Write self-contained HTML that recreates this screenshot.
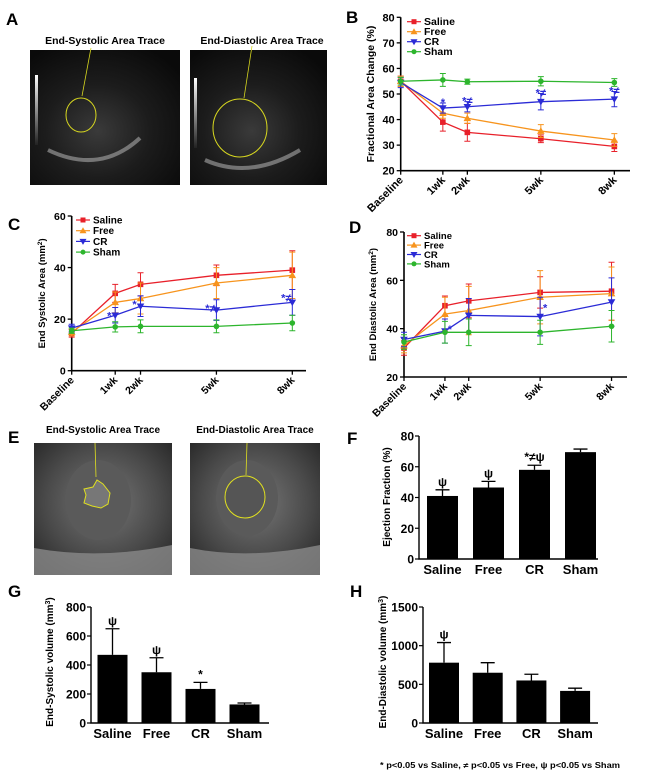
<!DOCTYPE html>
<html><head><meta charset="utf-8"><style>
html,body{margin:0;padding:0;background:#fff}
svg{display:block;font-family:"Liberation Sans",Arial,sans-serif}
.b{font-weight:bold}
.n{font-family:"Liberation Sans Narrow","Liberation Sans",sans-serif;font-weight:bold}
</style></head><body>
<svg id="fig" width="645" height="778" viewBox="0 0 645 778" xmlns="http://www.w3.org/2000/svg">
<defs>
<radialGradient id="us" cx="0.45" cy="0.6" r="0.7"><stop offset="0" stop-color="#3a3a3a"/><stop offset="0.5" stop-color="#1c1c1c"/><stop offset="1" stop-color="#0a0a0a"/></radialGradient>
<radialGradient id="mri" cx="0.5" cy="0.45" r="0.75"><stop offset="0" stop-color="#777"/><stop offset="0.55" stop-color="#4a4a4a"/><stop offset="1" stop-color="#202020"/></radialGradient>
<linearGradient id="gbar" x1="0" y1="0" x2="0" y2="1"><stop offset="0" stop-color="#fff"/><stop offset="1" stop-color="#222"/></linearGradient>
</defs>
<g>
<text x="6" y="25" font-size="17" class="b">A</text>
<text x="105" y="44" font-size="10.5" class="b" text-anchor="middle">End-Systolic Area Trace</text>
<text x="262" y="44" font-size="10.5" class="b" text-anchor="middle">End-Diastolic Area Trace</text>
<rect x="30" y="50" width="150" height="135" fill="url(#us)"/>
<rect x="35" y="75" width="3" height="70" fill="url(#gbar)"/>
<path d="M48 150 Q100 175 140 138" stroke="#aaa" stroke-width="4" fill="none" opacity="0.6"/>
<ellipse cx="81" cy="115" rx="15" ry="17" fill="none" stroke="#d8d820" stroke-width="1"/>
<line x1="91" y1="48" x2="82" y2="96" stroke="#d8d820" stroke-width="0.8"/>
<rect x="190" y="50" width="137" height="135" fill="url(#us)"/>
<rect x="194" y="78" width="3" height="70" fill="url(#gbar)"/>
<path d="M205 160 Q250 180 300 150" stroke="#aaa" stroke-width="4" fill="none" opacity="0.6"/>
<ellipse cx="240" cy="128" rx="27" ry="29" fill="none" stroke="#d8d820" stroke-width="1"/>
<line x1="252" y1="46" x2="244" y2="98" stroke="#d8d820" stroke-width="0.8"/>
</g>
<g>
<text x="8" y="443" font-size="17" class="b">E</text>
<text x="103" y="433" font-size="10" class="n" text-anchor="middle">End-Systolic Area Trace</text>
<text x="255" y="433" font-size="10" class="n" text-anchor="middle">End-Diastolic Area Trace</text>
<rect x="34" y="443" width="138" height="132" fill="url(#mri)"/>
<ellipse cx="98" cy="500" rx="33" ry="40" fill="#5a5a5a"/>
<path d="M34 548 Q100 560 172 545 L172 575 L34 575Z" fill="#8a8a8a" opacity="0.8"/>
<path d="M84 489 L93 487 L97 480 L103 484 L110 493 L108 504 L101 508 L92 506 L84 503 L86 495Z" fill="#777" stroke="#e0e020" stroke-width="1"/>
<line x1="95" y1="443" x2="96" y2="477" stroke="#e0e020" stroke-width="0.8"/>
<rect x="190" y="443" width="130" height="132" fill="url(#mri)"/>
<ellipse cx="247" cy="498" rx="31" ry="38" fill="#5a5a5a"/>
<path d="M190 548 Q250 560 320 545 L320 575 L190 575Z" fill="#8a8a8a" opacity="0.8"/>
<ellipse cx="245" cy="497" rx="20" ry="21" fill="#555" stroke="#e0e020" stroke-width="1"/>
<line x1="247" y1="443" x2="246" y2="475" stroke="#e0e020" stroke-width="0.8"/>
</g>
<text x="380" y="768" font-size="8" class="n" textLength="240" lengthAdjust="spacingAndGlyphs">* p&lt;0.05 vs Saline, ≠ p&lt;0.05 vs Free, ψ p&lt;0.05 vs Sham</text>
</svg>
<script>
// ---- shared ----
const groups = ["Saline", "Free", "CR", "Sham"];
const timeLabels = ["Baseline", "1wk", "2wk", "5wk", "8wk"];
const weeks = [-0.72, 1, 2, 5, 8];
// ---- Panel B: Fractional Area Change ----
const bSaline = [55, 39, 35, 32.5, 29.5];
const bSalineErr = [2, 3.5, 3.5, 1.5, 2];
const bFree = [55, 42.5, 40.5, 35.5, 32];
const bFreeErr = [2, 2, 2, 2.5, 2.5];
const bCR = [54.5, 44.5, 45, 47, 48];
const bCRErr = [2, 2, 2, 3.2, 3];
const bSham = [55, 55.5, 54.8, 55, 54.5];
const bShamErr = [1.5, 2.5, 1, 1.8, 1.5];
const bTicks = [20, 30, 40, 50, 60, 70, 80];
const bMarks = ["", "*", "*≠", "*≠", "*≠"];
// ---- Panel C: End Systolic Area ----
const cSaline = [14.5, 30, 33.5, 37, 39];
const cSalineErr = [1.5, 3.5, 4.5, 4, 7.5];
const cFree = [15, 26.5, 28, 34, 37];
const cFreeErr = [1.5, 4, 6, 6, 9];
const cCR = [16.5, 21.5, 25, 23.5, 26.5];
const cCRErr = [1.5, 3, 4, 4, 5];
const cSham = [15.5, 17, 17.2, 17.2, 18.5];
const cShamErr = [1, 2, 2.5, 2.5, 3];
const cTicks = [0, 20, 40, 60];
const cMarks = ["", "*", "*", "*≠", "*≠"];
// ---- Panel D: End Diastolic Area ----
const dSaline = [32, 49.5, 51.5, 55, 55.5];
const dSalineErr = [3, 4, 7, 6.5, 12];
const dFree = [33, 46, 47.5, 53, 54.5];
const dFreeErr = [3, 7, 10, 11, 11];
const dCR = [35.5, 39, 45.5, 45, 51];
const dCRErr = [3, 5, 7, 8, 10];
const dSham = [34.5, 38.5, 38.5, 38.5, 41];
const dShamErr = [3, 4.5, 5.5, 5, 6.5];
const dTicks = [20, 40, 60, 80];
const dMarks = ["", "*", "", "*", ""];
// ---- Panel F/G/H bars ----
const fValues = [41, 46.5, 58, 69.5];
const fErr = [4, 4, 3, 2];
const fTicks = [0, 20, 40, 60, 80];
const fMarks = ["ψ", "ψ", "*≠ψ", ""];
const gValues = [470, 350, 235, 128];
const gErr = [180, 100, 45, 10];
const gTicks = [0, 200, 400, 600, 800];
const gMarks = ["ψ", "ψ", "*", ""];
const hValues = [780, 650, 550, 415];
const hErr = [260, 130, 80, 35];
const hTicks = [0, 500, 1000, 1500];
const hMarks = ["ψ", "", "", ""];

const NS = "http://www.w3.org/2000/svg";
const svg = document.getElementById("fig");
function mk(tag, attrs, parent, text) {
  const e = document.createElementNS(NS, tag);
  for (const k in attrs) e.setAttribute(k, attrs[k]);
  if (text !== undefined) e.textContent = text;
  (parent || svg).appendChild(e);
  return e;
}
const colors = ["#e8202a", "#f7941d", "#2b2bd6", "#2db52d"];
const shapes = ["square", "up", "down", "circle"];
function marker(g, shape, x, y, c, s) {
  let m;
  if (shape === "square") m = mk("rect", {x: x - s, y: y - s, width: 2 * s, height: 2 * s, fill: c}, g);
  else if (shape === "circle") m = mk("circle", {cx: x, cy: y, r: s, fill: c}, g);
  else if (shape === "up") m = mk("path", {d: `M${x} ${y - s - 1}L${x + s + 1} ${y + s}L${x - s - 1} ${y + s}Z`, fill: c}, g);
  else m = mk("path", {d: `M${x} ${y + s + 1}L${x + s + 1} ${y - s}L${x - s - 1} ${y - s}Z`, fill: c}, g);
  
  
}

function lineChart(o) {
  const g = mk("g", {});
  
  
  const vmin = o.ticks[0], vmax = o.ticks[o.ticks.length - 1];
  const Y = v => o.yBot - (v - vmin) / (vmax - vmin) * (o.yBot - o.yTop);
  const X = w => o.ax + (w - weeks[0]) * o.pxw;
  const lab = mk("text", {x: o.lx, y: o.ly, "font-size": 17, class: "b"}, g, o.letter);
  
  
  const ax = mk("path", {d: `M${o.ax} ${o.yTop}V${o.yBot}H${o.xEnd}`, stroke: "#000", "stroke-width": 1.6, fill: "none"}, g);
  
  
  o.ticks.forEach(t => {
    mk("line", {x1: o.ax - 4, x2: o.ax, y1: Y(t), y2: Y(t), stroke: "#000", "stroke-width": 1.3}, g);
    const tl = mk("text", {x: o.ax - 6, y: Y(t) + 4, "font-size": o.fs, class: "b", "text-anchor": "end"}, g, String(t));
    
    
  });
  weeks.forEach((w, i) => {
    const x = X(w);
    mk("line", {x1: x, x2: x, y1: o.yBot, y2: o.yBot + 4, stroke: "#000", "stroke-width": 1.3}, g);
    const tl = mk("text", {x: x + 3, y: o.yBot + 10, "font-size": o.fs, class: "b", "text-anchor": "end", transform: `rotate(-45 ${x + 3} ${o.yBot + 10})`}, g, timeLabels[i]);
    
    
  });
  const yl = mk("text", {x: 0, y: 0, "font-size": o.yfs, class: "b", "text-anchor": "middle", transform: `translate(${o.ylx} ${(o.yTop + o.yBot) / 2}) rotate(-90)`}, g);
  
  
  mk("tspan", {}, yl, o.ylabel);
  if (o.sup) { mk("tspan", {"baseline-shift": "super", "font-size": o.yfs * 0.7}, yl, "2"); mk("tspan", {}, yl, ")"); }
  o.series.forEach((s, si) => {
    const sg = mk("g", {}, g);
    
    
    const pts = s.v.map((v, i) => `${X(weeks[i])},${Y(v)}`).join(" ");
    const pl = mk("polyline", {points: pts, fill: "none", stroke: colors[si], "stroke-width": 1.3}, sg);
    
    
    s.v.forEach((v, i) => {
      const x = X(weeks[i]), y1 = Y(v - s.e[i]), y2 = Y(v + s.e[i]);
      const eb = mk("path", {d: `M${x} ${y1}V${y2}M${x - 3} ${y1}H${x + 3}M${x - 3} ${y2}H${x + 3}`, stroke: colors[si], "stroke-width": 1, fill: "none"}, sg);
      
      
      marker(sg, shapes[si], x, Y(v), colors[si], 2.8);
    });
    const ly = o.legY + si * o.legDy;
    mk("line", {x1: o.legX - 7, x2: o.legX + 7, y1: ly, y2: ly, stroke: colors[si], "stroke-width": 1.2}, g);
    marker(g, shapes[si], o.legX, ly, colors[si], 2.5);
    const lt = mk("text", {x: o.legX + 10, y: ly + 3.5, "font-size": o.lfs, class: "b"}, g, groups[si]);
    
    
  });
  const cr = o.series[2];
  o.marks.forEach((m, i) => {
    if (!m) return;
    const x = X(weeks[i]) + o.markDx, y = Y(cr.v[i] + cr.e[i]) + o.markDy;
    const t = mk("text", {x: x, y: y, "font-size": 11, class: "b", fill: "#2b2bd6", "text-anchor": "middle"}, g, m);
    
    
  });
}

lineChart({name: "chart-b-fractional-area-change", letter: "B", lx: 346, ly: 23, ax: 400.7, xEnd: 630, yTop: 17.3, yBot: 170.7, pxw: 24.5, ticks: bTicks, fs: 11, yfs: 10.5, lfs: 10.5, ylx: 374, ylabel: "Fractional Area Change (%)", sup: false,
  series: [{v: bSaline, e: bSalineErr}, {v: bFree, e: bFreeErr}, {v: bCR, e: bCRErr}, {v: bSham, e: bShamErr}], legX: 414, legY: 21.7, legDy: 10, marks: bMarks, markDx: 0, markDy: 3});
lineChart({name: "chart-c-end-systolic-area", letter: "C", lx: 8, ly: 230, ax: 71.7, xEnd: 306, yTop: 216, yBot: 370.7, pxw: 25.3, ticks: cTicks, fs: 10.5, yfs: 9.5, lfs: 10, ylx: 45, ylabel: "End Systolic Area (mm", sup: true,
  series: [{v: cSaline, e: cSalineErr}, {v: cFree, e: cFreeErr}, {v: cCR, e: cCRErr}, {v: cSham, e: cShamErr}], legX: 83, legY: 220, legDy: 10.7, marks: cMarks, markDx: -6, markDy: 12});
lineChart({name: "chart-d-end-diastolic-area", letter: "D", lx: 349, ly: 233, ax: 404, xEnd: 627, yTop: 232, yBot: 377, pxw: 23.8, ticks: dTicks, fs: 10.5, yfs: 9.5, lfs: 9.5, ylx: 376, ylabel: "End Diastolic Area (mm", sup: true,
  series: [{v: dSaline, e: dSalineErr}, {v: dFree, e: dFreeErr}, {v: dCR, e: dCRErr}, {v: dSham, e: dShamErr}], legX: 414, legY: 235.7, legDy: 9.4, marks: dMarks, markDx: 5, markDy: 14});

function barChart(o) {
  const g = mk("g", {});
  
  
  const vmax = o.ticks[o.ticks.length - 1];
  const Y = v => o.yBot - v / vmax * (o.yBot - o.yTop);
  const X = i => o.c0 + i * o.step;
  const lab = mk("text", {x: o.lx, y: o.ly, "font-size": 17, class: "b"}, g, o.letter);
  
  
  const ax = mk("path", {d: `M${o.ax} ${o.yTop}V${o.yBot}H${o.xEnd}`, stroke: "#000", "stroke-width": 1.4, fill: "none"}, g);
  
  
  o.ticks.forEach(t => {
    mk("line", {x1: o.ax - 4, x2: o.ax, y1: Y(t), y2: Y(t), stroke: "#000", "stroke-width": 1.2}, g);
    const tl = mk("text", {x: o.ax - 5, y: Y(t) + 4.5, "font-size": 12, class: "n", "text-anchor": "end"}, g, String(t));
    
    
  });
  const yl = mk("text", {x: 0, y: 0, "font-size": 10, class: "b", "text-anchor": "middle", transform: `translate(${o.ylx} ${o.ylc}) rotate(-90)`}, g);
  
  
  mk("tspan", {}, yl, o.ylabel);
  if (o.sup) { mk("tspan", {"baseline-shift": "super", "font-size": 7}, yl, "3"); mk("tspan", {}, yl, ")"); }
  o.vals.forEach((v, i) => {
    const x = X(i), top = Y(v), et = Y(v + o.err[i]);
    const e = mk("path", {d: `M${x} ${top}V${et}M${x - 7} ${et}H${x + 7}`, stroke: "#000", "stroke-width": 1.3, fill: "none"}, g);
    
    
    const r = mk("rect", {x: x - o.w / 2, y: top, width: o.w, height: o.yBot - top, fill: "#000"}, g);
    
    
    const tl = mk("text", {x: x, y: o.yBot + 15, "font-size": 13, class: "n", "text-anchor": "middle"}, g, groups[i]);
    
    
    if (o.marks[i]) {
      const m = mk("text", {x: x, y: et - 4, "font-size": 12, class: "n", "text-anchor": "middle"}, g, o.marks[i]);
      
      
    }
  });
}
barChart({name: "chart-f-ejection-fraction", letter: "F", lx: 347, ly: 444, ax: 419, xEnd: 598, yTop: 436, yBot: 559, c0: 442.5, step: 46, w: 31, vals: fValues, err: fErr, ticks: fTicks, marks: fMarks, ylx: 390, ylc: 497, ylabel: "Ejection  Fraction (%)", sup: false});
barChart({name: "chart-g-end-systolic-volume", letter: "G", lx: 8, ly: 597, ax: 91, xEnd: 269, yTop: 607, yBot: 723, c0: 112.5, step: 44, w: 30, vals: gValues, err: gErr, ticks: gTicks, marks: gMarks, ylx: 53, ylc: 662, ylabel: "End-Systolic volume (mm", sup: true});
barChart({name: "chart-h-end-diastolic-volume", letter: "H", lx: 350, ly: 597, ax: 423, xEnd: 598, yTop: 607, yBot: 723, c0: 444, step: 43.7, w: 30, vals: hValues, err: hErr, ticks: hTicks, marks: hMarks, ylx: 386, ylc: 662, ylabel: "End-Diastolic volume (mm", sup: true});
</script>
</body></html>
